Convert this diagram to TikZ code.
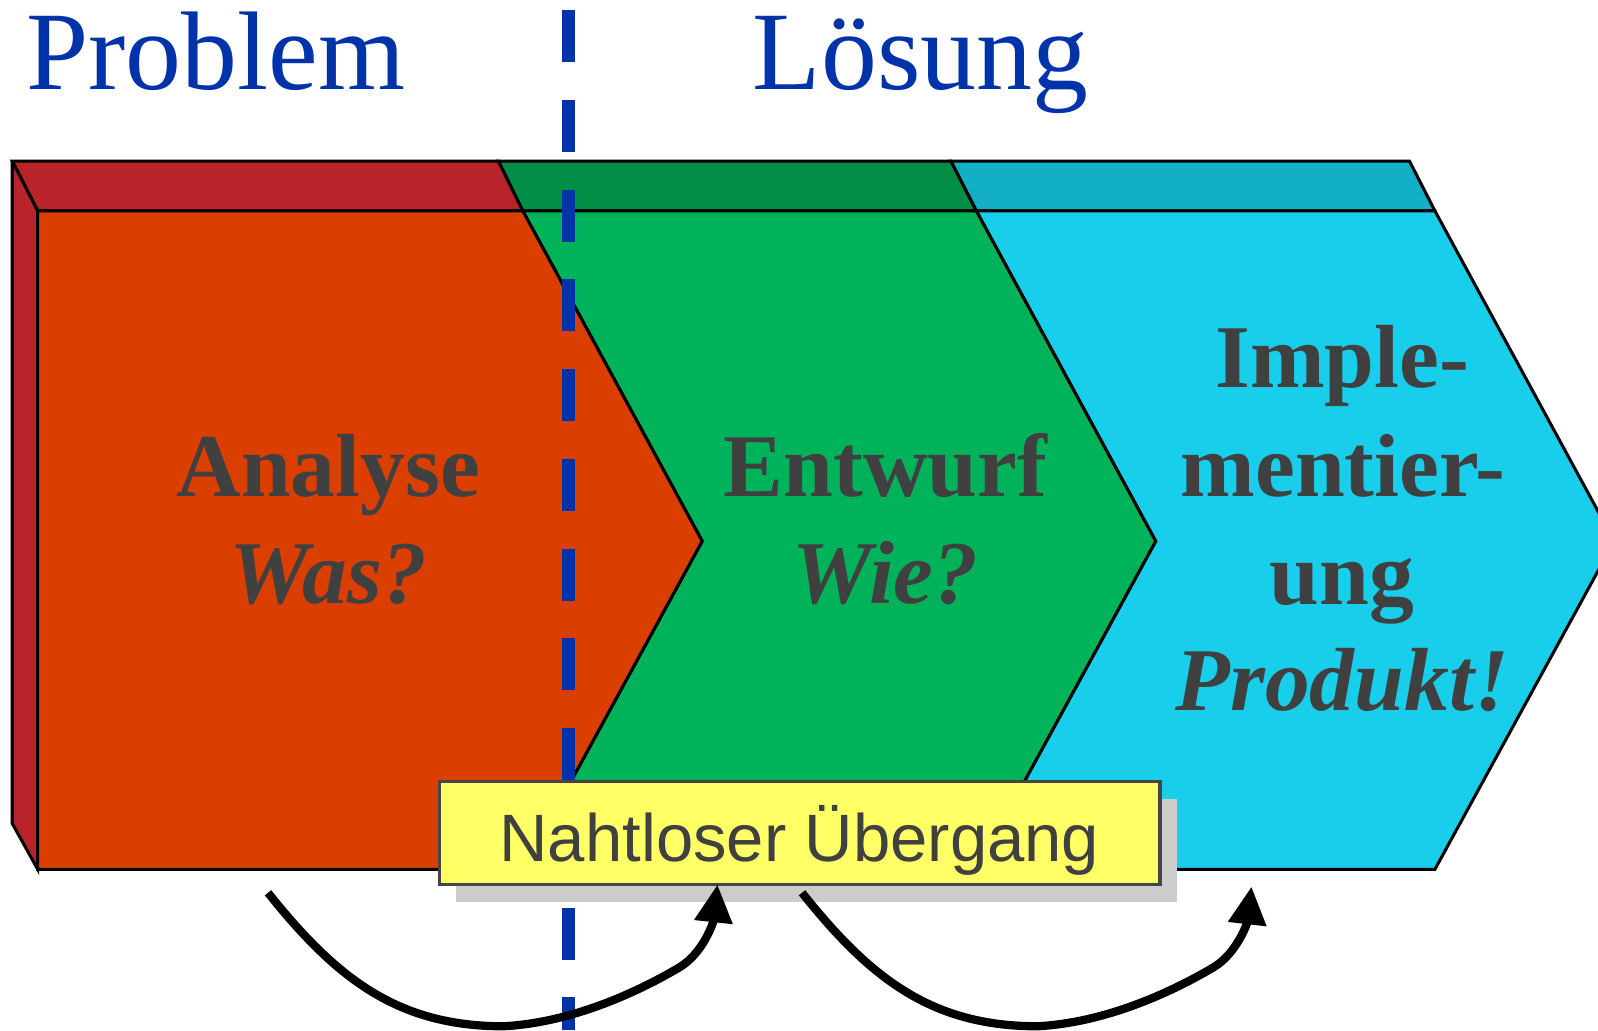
\documentclass[tikz,border=0pt]{standalone}
\usepackage{fontspec}
\setmainfont{Liberation Serif}
\setsansfont{Liberation Sans}
\usetikzlibrary{arrows.meta,shadows}

\definecolor{frontRed}{HTML}{DA3F00}
\definecolor{topRed}{HTML}{B8242A}
\definecolor{frontGreen}{HTML}{00B259}
\definecolor{topGreen}{HTML}{008E47}
\definecolor{frontCyan}{HTML}{18CEEA}
\definecolor{topCyan}{HTML}{12AFC6}
\definecolor{titleBlue}{HTML}{0033AA}
\definecolor{inkGray}{HTML}{404040}
\definecolor{noteYellow}{HTML}{FFFF66}
\definecolor{shadowGray}{HTML}{CCCCCC}

\begin{document}
\begin{tikzpicture}[x=0.01cm, y=-0.01cm,
  face/.style={draw=black, line width=0.85pt, line join=miter, miter limit=4},
  phase/.style={text=inkGray, inner sep=0pt, anchor=base,
    font=\fontsize{25}{30}\selectfont\bfseries},
  phaseq/.style={phase, font=\fontsize{25}{30}\selectfont\bfseries\itshape},
  heading/.style={text=titleBlue, inner sep=0pt, anchor=base west,
    font=\fontsize{31.2}{36}\selectfont},
  divider/.style={draw=titleBlue, line width=3.5pt,
    dash pattern=on 0.51cm off 0.37cm},
  notebox/.style={draw=black!73, line width=0.85pt, fill=noteYellow,
    minimum width=7.07cm, minimum height=1.01cm, inner sep=0pt,
    text height=15.6pt, text depth=0pt, text=inkGray,
    font=\sffamily\fontsize{18.7}{22}\selectfont,
    drop shadow={shadow xshift=0.165cm, shadow yshift=-0.17cm,
      fill=shadowGray, opacity=1}},
  flow/.style={line width=2.3pt, -{Triangle[length=0.37cm, width=0.36cm]}}
]
\useasboundingbox (0,0) rectangle (1568,1011);
\clip (0,0) rectangle (1568,1011);

% headings
\node[heading] (problem) at (25,88) {Problem};
\node[heading] (loesung) at (738,88) {Lösung};

% third stage: implementation
\filldraw[face, fill=topCyan] (933,158) -- (1383,158) -- (1408,207) -- (958,207) -- cycle;
\filldraw[face, fill=frontCyan] (958,207) -- (1408,207) -- (1584,531) -- (1408,853)
  -- (958,853) -- (1134,531) -- cycle;

% second stage: design
\filldraw[face, fill=topGreen] (489,158) -- (933,158) -- (958,207) -- (513,207) -- cycle;
\filldraw[face, fill=frontGreen] (513,207) -- (958,207) -- (1134,531) -- (958,853)
  -- (513,853) -- (689,531) -- cycle;

% first stage: analysis
\filldraw[face, fill=topRed] (12,158) -- (489,158) -- (513,207) -- (37,207) -- cycle;
\filldraw[face, fill=topRed] (12,158) -- (37,207) -- (37,853) -- (12,808) -- cycle;
\filldraw[face, fill=frontRed] (37,207) -- (513,207) -- (689,531) -- (513,853)
  -- (37,853) -- cycle;

% stage captions
\node[phase]  (analyse) at (322,487) {Analyse};
\node[phaseq] (was)     at (322,592) {Was?};
\node[phase]  (entwurf) at (869,487) {Entwurf};
\node[phaseq] (wie)     at (869,592) {Wie?};
\node[phase]  (imple)   at (1317,380) {Imple-};
\node[phase]  (mentier) at (1318,487) {mentier-};
\node[phase]  (ung)     at (1317,593) {ung};
\node[phaseq] (produkt) at (1317,697) {Produkt!};

% boundary between problem and solution
\coordinate (divtop) at (558,10);
\coordinate (divbot) at (558,1011);
\draw[divider] (divtop) -- (divbot);

% seamless transition note
\node[notebox] (seam) at (784.5,817.5) {Nahtloser Übergang};

% transition arrows
\coordinate (a1s) at (263,876);
\coordinate (a1m) at (494,1007);
\coordinate (a1k) at (667,949);
\coordinate (a1e) at (704,868);
\coordinate (a2s) at (787,876);
\coordinate (a2m) at (1018,1007);
\coordinate (a2k) at (1191,949);
\coordinate (a2e) at (1228,870);
\draw[flow] (a1s) .. controls (330,960) and (390,1007) .. (a1m)
  .. controls (570,1003) and (640,965) .. (a1k)
  .. controls (690,935) and (700,905) .. (a1e);
\draw[flow] (a2s) .. controls (854,960) and (914,1007) .. (a2m)
  .. controls (1094,1003) and (1164,965) .. (a2k)
  .. controls (1214,935) and (1224,905) .. (a2e);
\end{tikzpicture}
\end{document}
